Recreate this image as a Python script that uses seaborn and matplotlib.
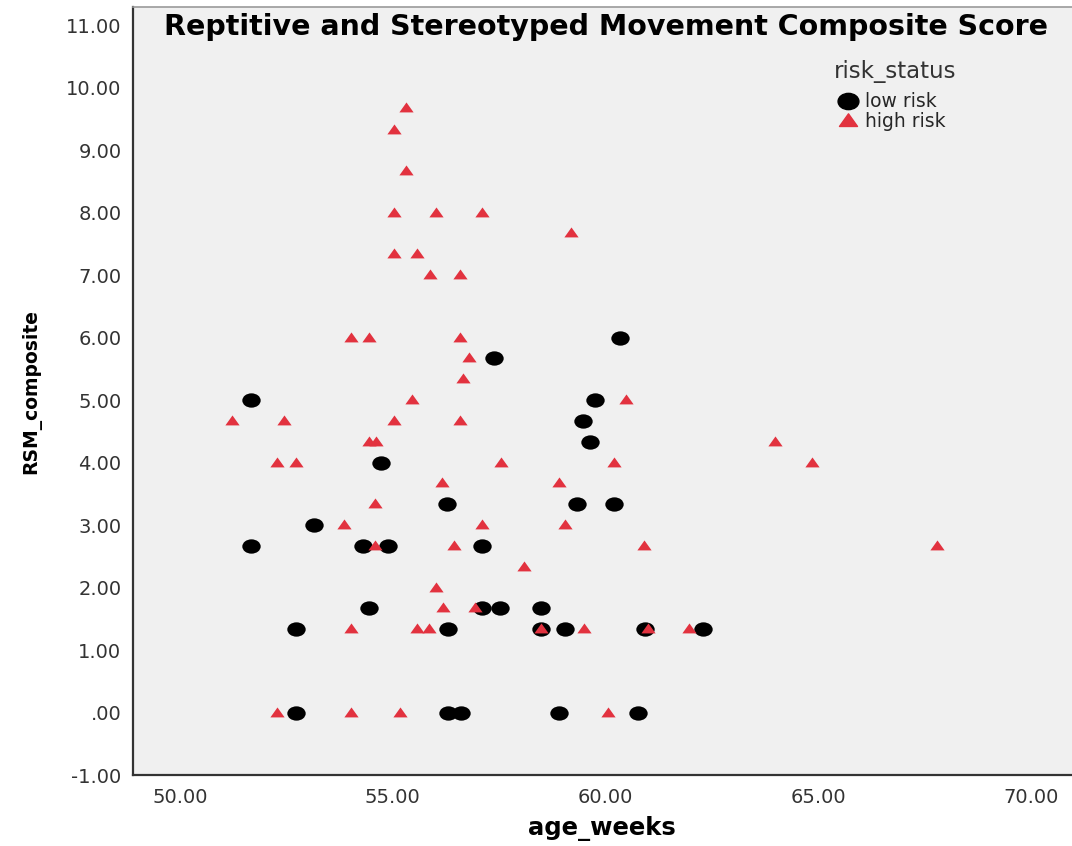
import numpy as np
import pandas as pd
import matplotlib
matplotlib.use("Agg")
import matplotlib.pyplot as plt
import seaborn as sns
from matplotlib.path import Path
from matplotlib.lines import Line2D
from matplotlib.ticker import FuncFormatter

# values
low_age = [57.37, 51.66, 54.72, 56.28, 53.14, 51.66, 54.29, 54.88, 57.09,
           60.33, 59.76, 59.47, 59.62, 59.33, 60.19,
           54.43, 57.10, 57.51, 58.48,
           52.73, 56.29, 58.48, 59.05, 60.92, 62.29,
           52.73, 56.29, 56.60, 58.91, 60.77]
low_rsm = [5.67, 5.00, 4.00, 3.33, 3.00, 2.67, 2.67, 2.67, 2.67,
           6.00, 5.00, 4.67, 4.33, 3.33, 3.33,
           1.67, 1.67, 1.67, 1.67,
           1.33, 1.33, 1.33, 1.33, 1.33, 1.33,
           0.00, 0.00, 0.00, 0.00, 0.00]

high_age = [55.31, 55.02, 55.31, 55.02, 56.01, 57.09, 55.02, 55.57, 59.19,
            55.87, 56.59, 54.01, 54.43, 56.58, 56.80, 56.66, 55.44, 60.48,
            51.22, 52.44, 55.02, 56.58, 54.43, 54.60, 63.98,
            52.29, 52.72, 57.53, 60.19, 64.85, 56.15, 58.91, 54.58,
            53.85, 57.09, 59.04, 54.58, 56.44, 60.90, 67.78, 58.07, 56.01,
            56.17, 56.94, 54.01, 55.57, 55.85, 58.48, 59.48, 61.00, 61.96,
            52.29, 54.01, 55.16, 60.05]
high_rsm = [9.67, 9.33, 8.67, 8.00, 8.00, 8.00, 7.33, 7.33, 7.67,
            7.00, 7.00, 6.00, 6.00, 6.00, 5.67, 5.33, 5.00, 5.00,
            4.67, 4.67, 4.67, 4.67, 4.33, 4.33, 4.33,
            4.00, 4.00, 4.00, 4.00, 4.00, 3.67, 3.67, 3.33,
            3.00, 3.00, 3.00, 2.67, 2.67, 2.67, 2.67, 2.33, 2.00,
            1.67, 1.67, 1.33, 1.33, 1.33, 1.33, 1.33, 1.33, 1.33,
            0.00, 0.00, 0.00, 0.00]

x_ticks = [50, 55, 60, 65, 70]
y_ticks = list(range(-1, 12))

df = pd.concat([
    pd.DataFrame({"age_weeks": low_age, "RSM_composite": low_rsm, "risk_status": "low risk"}),
    pd.DataFrame({"age_weeks": high_age, "RSM_composite": high_rsm, "risk_status": "high risk"}),
])

sns.set_style("white", {"axes.facecolor": "#f0f0f0"})
# the SPSS export is stretched sideways, DejaVu's wide glyphs get close to that
plt.rcParams["font.family"] = ["DejaVu Sans"]

ellipse = Path(Path.unit_circle().vertices * [1.0, 0.78], Path.unit_circle().codes)
triangle = Path([(-1, -0.55), (1, -0.55), (0, 0.85), (-1, -0.55)],
                [Path.MOVETO, Path.LINETO, Path.LINETO, Path.CLOSEPOLY])

red = "#e2323f"

fig = plt.figure(figsize=(10.72, 8.46), dpi=100)
ax = fig.add_axes([0.1237, 0.0839, 0.8763, 0.9078])

low = df[df.risk_status == "low risk"]
high = df[df.risk_status == "high risk"]
sns.scatterplot(data=low, x="age_weeks", y="RSM_composite", marker=ellipse,
                color="black", s=175, linewidth=0, ax=ax)
sns.scatterplot(data=high, x="age_weeks", y="RSM_composite", marker=triangle,
                color=red, s=105, linewidth=0, ax=ax)

ax.set_xlim(48.89, 70.95)
ax.set_ylim(-1, 11.29)
ax.set_xticks(x_ticks)
ax.set_yticks(y_ticks)


def spss_fmt(v, pos):
    s = f"{v:.2f}"
    return s[1:] if s.startswith("0") else s


ax.xaxis.set_major_formatter(FuncFormatter(spss_fmt))
ax.yaxis.set_major_formatter(FuncFormatter(spss_fmt))
ax.tick_params(axis="both", direction="out", length=7, width=1.6,
               color="#333333", labelsize=14, labelcolor="#333333", pad=2)
ax.tick_params(axis="y", pad=1)

for side in ["left", "bottom"]:
    ax.spines[side].set_color("#333333")
    ax.spines[side].set_linewidth(1.6)
ax.spines["top"].set_color("#9a9a9a")
ax.spines["top"].set_linewidth(1.2)
ax.spines["right"].set_visible(False)

ax.set_xlabel("age_weeks", fontsize=17.5, fontweight="bold", color="black", labelpad=7)
ax.set_ylabel("RSM_composite", fontsize=13.5, fontweight="bold", color="black", labelpad=18)
ax.set_title("Reptitive and Stereotyped Movement Composite Score",
             fontsize=20.5, fontweight="bold", color="black",
             x=0.504, y=0.974, pad=0, va="center")

fig.text(0.835, 0.915, "risk_status", fontsize=16.5, color="#333333",
         ha="center", va="center")
handles = [
    Line2D([], [], linestyle="none", marker=ellipse, color="black", markersize=15),
    Line2D([], [], linestyle="none", marker=triangle, color=red, markersize=13),
]
ax.legend(handles, ["low risk", "high risk"], loc="upper left",
          bbox_to_anchor=(829 / 1072, 1 - 83 / 846), bbox_transform=fig.transFigure,
          frameon=False, fontsize=13.5, handlelength=1.0,
          handletextpad=0.4, labelspacing=0.05, borderpad=0)

fig.savefig("out.png", dpi=100)
